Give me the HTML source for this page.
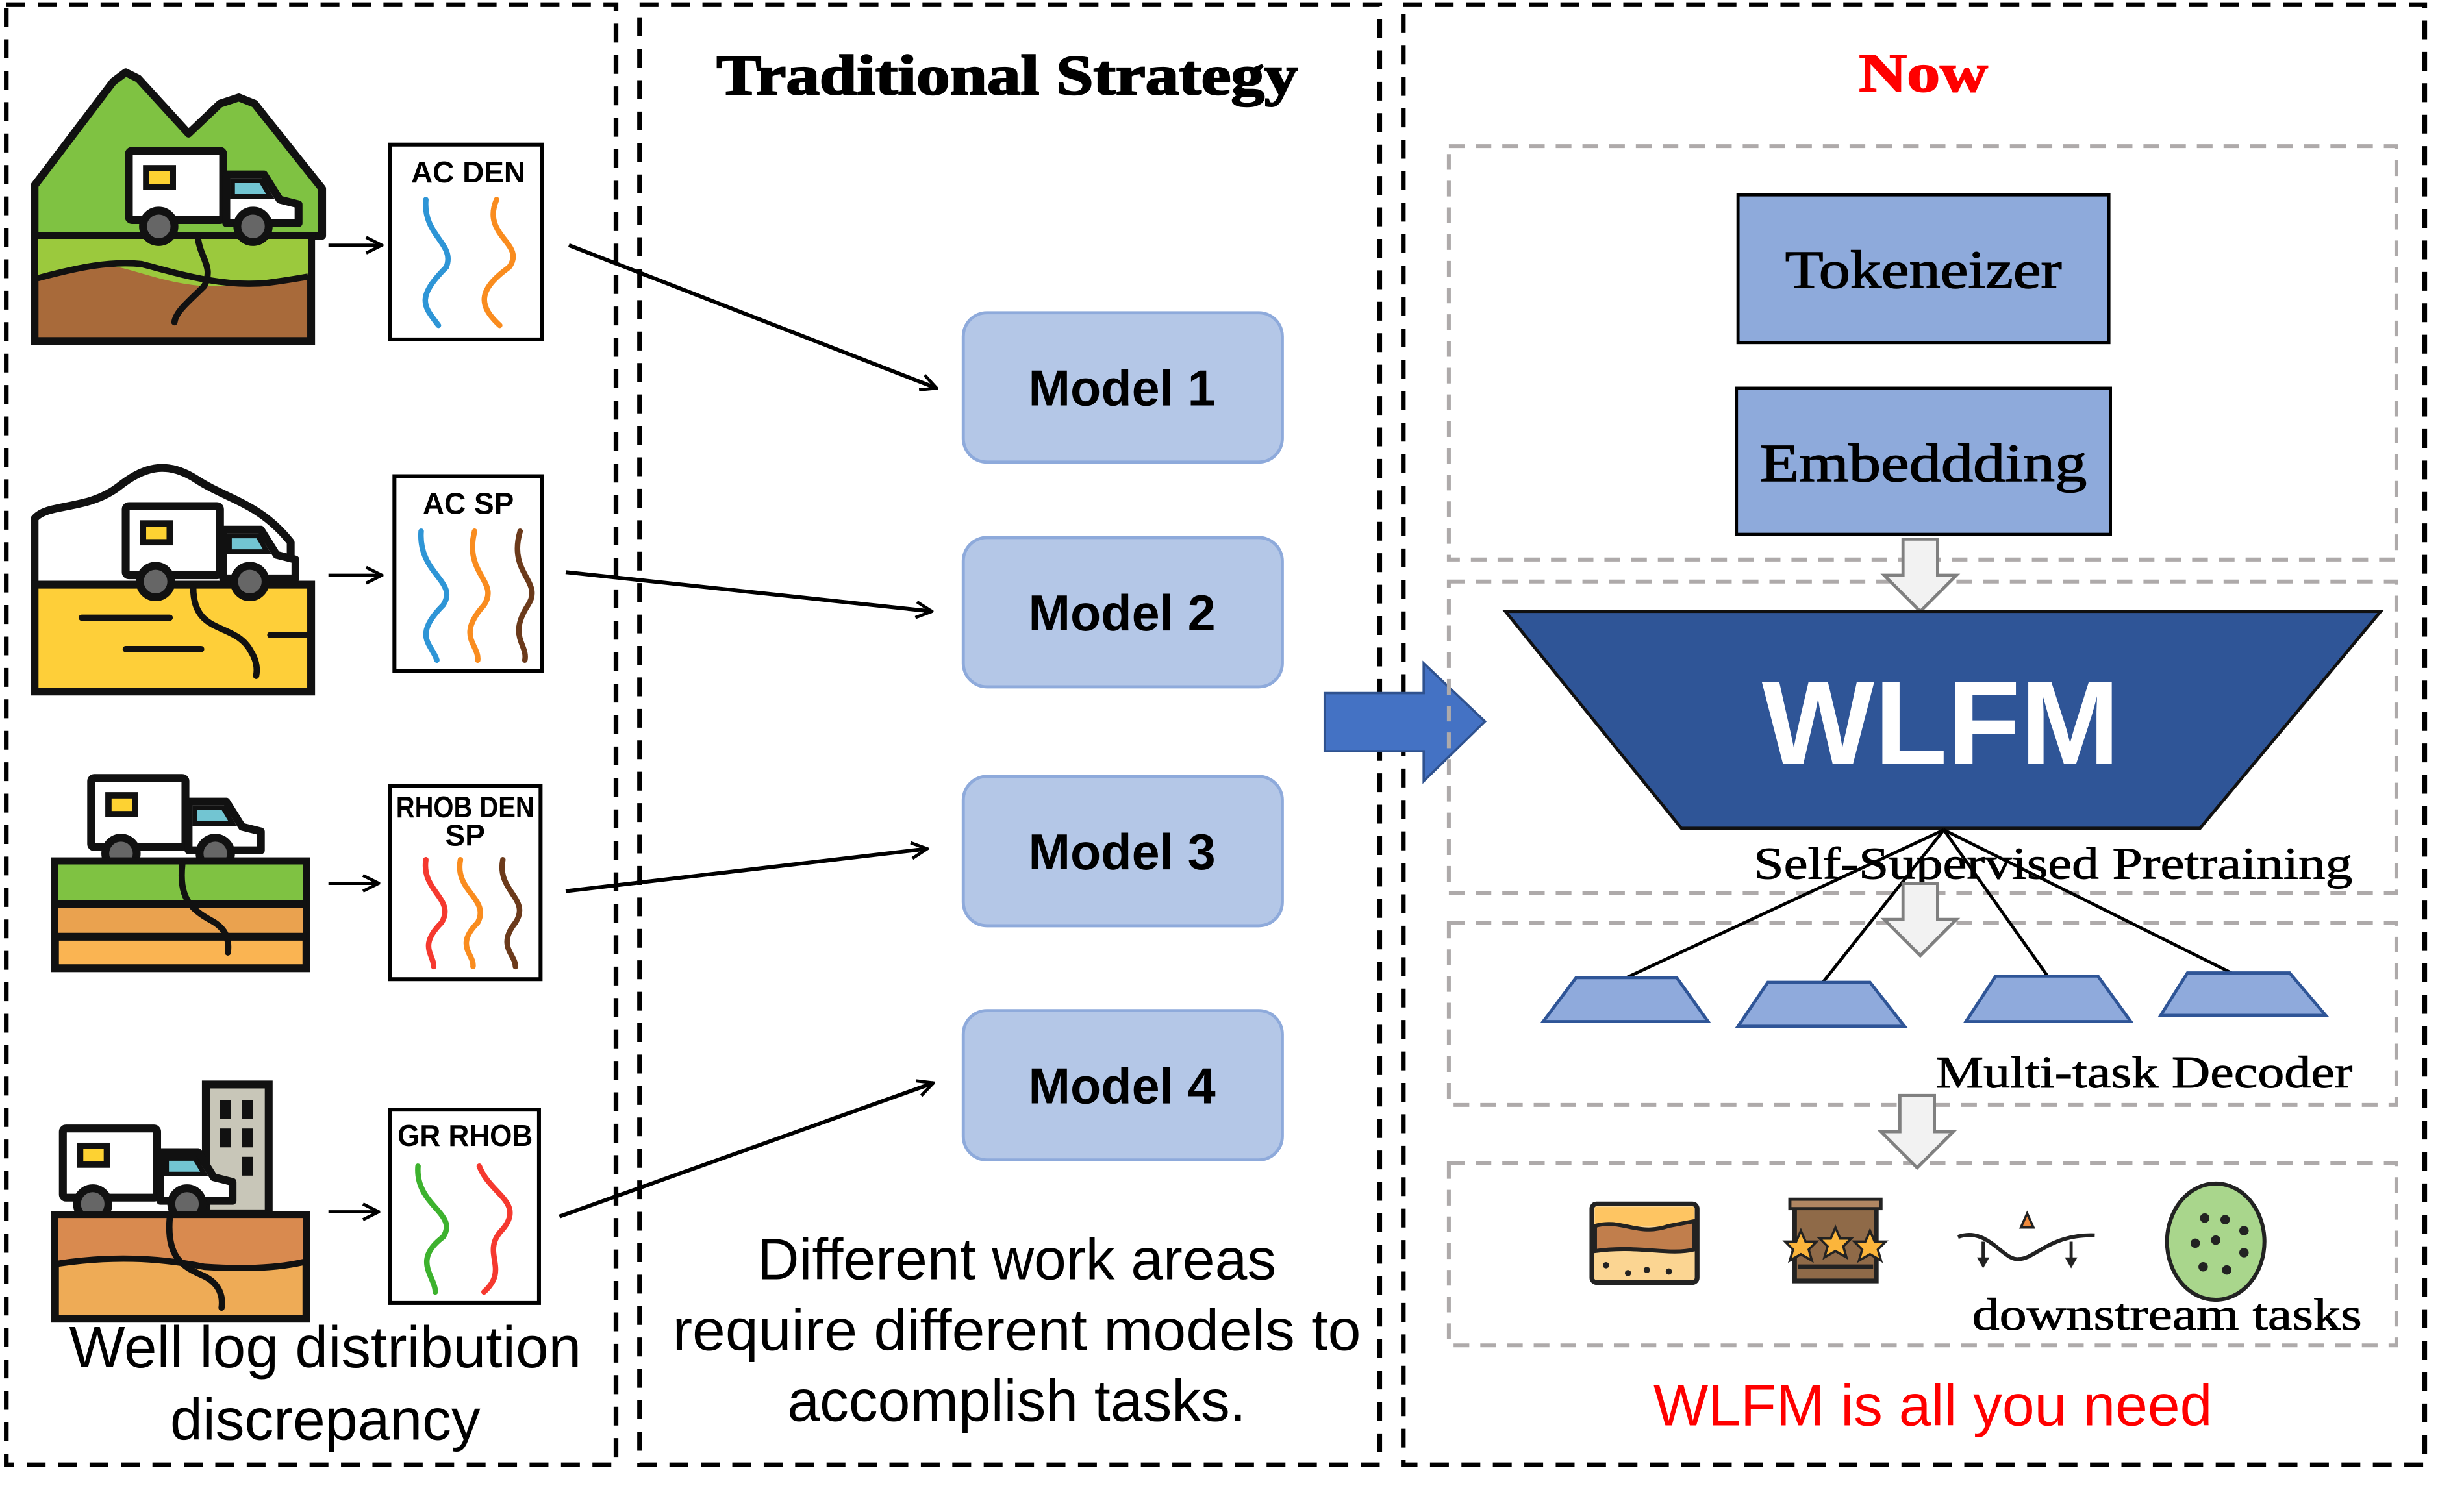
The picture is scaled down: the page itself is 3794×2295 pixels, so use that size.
<!DOCTYPE html>
<html><head><meta charset="utf-8"><style>
html,body{margin:0;padding:0;background:#fff;width:3794px;height:2295px;overflow:hidden}
svg{display:block}
.sf{font-family:"Liberation Serif",serif}
.ss{font-family:"Liberation Sans",sans-serif}
</style></head><body>
<svg width="3794" height="2295" viewBox="0 0 1568 948" preserveAspectRatio="none" xmlns="http://www.w3.org/2000/svg">
<defs>
<marker id="oa" viewBox="0 0 12 12" refX="11" refY="6" markerWidth="12" markerHeight="12" markerUnits="userSpaceOnUse" orient="auto"><path d="M1,1 L11,6 L1,11" fill="none" stroke="#000" stroke-width="2"/></marker>
<g id="truck">
<rect x="0" y="0" width="60" height="44" fill="#fff" stroke="#111" stroke-width="5" rx="2"/>
<rect x="11" y="11" width="17" height="12" fill="#fdd232" stroke="#111" stroke-width="4"/>
<path d="M62,15 L86,15 L96,31 L108,34 L108,46 L62,46 Z" fill="#fff" stroke="#111" stroke-width="5" stroke-linejoin="round"/>
<path d="M66,19 L84,19 L90,29 L66,29 Z" fill="#72c5d2" stroke="#111" stroke-width="3"/>
<circle cx="19" cy="48" r="10" fill="#666" stroke="#111" stroke-width="5"/>
<circle cx="79" cy="48" r="10" fill="#666" stroke="#111" stroke-width="5"/>
</g>
</defs>
<g fill="none" stroke="#000" stroke-width="3" stroke-dasharray="12,8">
<rect x="4" y="3" width="388" height="929"/>
<rect x="407" y="3" width="471" height="929"/>
<rect x="893" y="3" width="650" height="929"/>
</g>
<!-- scene 1 -->
<path d="M22,128 L22,118 L72,52 L80,46 L88,50 L120,85 L140,66 L152,62 L162,66 L205,120 L205,150 L22,150 Z" fill="#7fc242" stroke="#111" stroke-width="5" stroke-linejoin="round"/>
<rect x="22" y="150" width="176" height="67" fill="#a86a3a" stroke="#111" stroke-width="5"/>
<path d="M24,152 L196,152 L196,176 C170,177 150,183 130,182 C100,180 80,168 60,168 C45,168 30,175 24,176 Z" fill="#9bc93d"/>
<path d="M24,177 C50,170 70,166 90,168 C110,173 140,183 170,180 C185,178 190,177 196,176" fill="none" stroke="#111" stroke-width="4"/>
<path d="M126,152 C128,165 136,170 130,182 C120,192 112,198 111,205" fill="none" stroke="#111" stroke-width="4" stroke-linecap="round"/>
<use href="#truck" x="82" y="96"/>
<!-- scene 2 -->
<path d="M22,330 C30,320 55,325 75,310 C90,298 105,292 125,305 C145,318 165,320 185,345 L185,372 L22,372 Z" fill="#fff" stroke="#111" stroke-width="5" stroke-linejoin="round"/>
<rect x="22" y="372" width="176" height="68" fill="#fecf39" stroke="#111" stroke-width="5"/>
<use href="#truck" x="80" y="322"/>
<g stroke="#111" stroke-width="4" stroke-linecap="round" fill="none">
<line x1="52" y1="393" x2="108" y2="393"/><line x1="80" y1="413" x2="128" y2="413"/><line x1="172" y1="404" x2="198" y2="404"/>
<path d="M123,374 C123,405 150,395 160,415 C163,420 164,425 163,430"/>
</g>
<!-- scene 3 -->
<use href="#truck" x="58" y="495"/>
<rect x="35" y="548" width="160" height="68" fill="#fab452" stroke="#111" stroke-width="5"/>
<rect x="37" y="550" width="156" height="24" fill="#7fc242"/>
<rect x="37" y="577" width="156" height="18" fill="#eaa24f"/>
<line x1="35" y1="575" x2="195" y2="575" stroke="#111" stroke-width="5"/>
<line x1="35" y1="596" x2="195" y2="596" stroke="#111" stroke-width="5"/>
<path d="M116,550 C114,570 120,578 135,586 C144,591 146,598 145,606" fill="none" stroke="#111" stroke-width="4" stroke-linecap="round"/>
<!-- scene 4 -->
<rect x="131" y="690" width="40" height="82" fill="#c8c6b8" stroke="#111" stroke-width="5"/>
<g fill="#111"><rect x="140" y="700" width="7" height="12"/><rect x="154" y="700" width="7" height="12"/><rect x="140" y="718" width="7" height="12"/><rect x="154" y="718" width="7" height="12"/><rect x="154" y="736" width="7" height="12"/></g>
<use href="#truck" x="40" y="718"/>
<rect x="35" y="773" width="160" height="66" fill="#eeab56" stroke="#111" stroke-width="5"/>
<path d="M37,775 L193,775 L193,803 C170,806 150,808 120,805 C90,800 60,800 37,804 Z" fill="#d98a4f"/>
<path d="M37,804 C70,799 100,800 130,806 C160,808 180,806 193,803" fill="none" stroke="#111" stroke-width="4"/>
<path d="M108,775 C106,800 116,806 130,812 C140,817 142,825 141,832" fill="none" stroke="#111" stroke-width="4" stroke-linecap="round"/>
<g stroke="#000" stroke-width="2" marker-end="url(#oa)">
<line x1="209" y1="156" x2="243" y2="156"/>
<line x1="209" y1="366" x2="243" y2="366"/>
<line x1="209" y1="562" x2="241" y2="562"/>
<line x1="209" y1="771" x2="241" y2="771"/>
</g>
<g fill="#fff" stroke="#000" stroke-width="2.5">
<rect x="248" y="92" width="97" height="124"/>
<rect x="251" y="303" width="94" height="124"/>
<rect x="248" y="500" width="96" height="123"/>
<rect x="248" y="706" width="95" height="123"/>
</g>
<g class="ss" font-weight="bold" font-size="19" text-anchor="middle" fill="#000">
<text x="298" y="116">AC DEN</text>
<text x="298" y="327">AC  SP</text>
<text x="296" y="520" textLength="88" lengthAdjust="spacingAndGlyphs">RHOB DEN</text>
<text x="296" y="538">SP</text>
<text x="296" y="729" textLength="86" lengthAdjust="spacingAndGlyphs">GR RHOB</text>
</g>
<g fill="none" stroke-width="3.5" stroke-linecap="round">
<path d="M271,127 C269,150 290,155 284,170 C264,190 270,195 279,207" stroke="#2e95d6"/>
<path d="M316,127 C306,150 335,155 324,170 C303,185 305,195 318,207" stroke="#f98c1f"/>
<path d="M268,338 C266,365 292,370 282,385 C262,405 275,410 278,420" stroke="#2e95d6"/>
<path d="M302,338 C295,365 318,370 308,385 C290,405 305,410 304,420" stroke="#f98c1f"/>
<path d="M331,338 C323,365 346,370 336,385 C323,405 336,410 334,420" stroke="#6b3a1b"/>
<path d="M271,547 C268,567 290,572 281,587 C266,602 276,607 276,615" stroke="#f5392f"/>
<path d="M293,547 C289,567 312,572 304,587 C289,602 302,607 301,615" stroke="#f98c1f"/>
<path d="M320,547 C316,567 338,572 328,587 C316,602 328,607 328,615" stroke="#6b3a1b"/>
<path d="M266,742 C264,767 292,772 282,787 C262,802 277,812 277,822" stroke="#3db22e"/>
<path d="M305,742 C312,760 334,765 320,782 C305,797 325,807 308,822" stroke="#f5392f"/>
</g>
<text class="ss" x="207" y="870" font-size="37" text-anchor="middle" textLength="326" lengthAdjust="spacingAndGlyphs">Well log distribution</text>
<text class="ss" x="207" y="916" font-size="37" text-anchor="middle">discrepancy</text>
<!-- middle -->
<text class="sf" x="456" y="60" font-size="36" font-weight="bold" stroke="#000" stroke-width="1" textLength="370" lengthAdjust="spacingAndGlyphs">Traditional Strategy</text>
<g fill="#b4c7e7" stroke="#8eaadb" stroke-width="2">
<rect x="613" y="199" width="203" height="95" rx="15"/>
<rect x="613" y="342" width="203" height="95" rx="15"/>
<rect x="613" y="494" width="203" height="95" rx="15"/>
<rect x="613" y="643" width="203" height="95" rx="15"/>
</g>
<g class="ss" font-weight="bold" font-size="32" text-anchor="middle">
<text x="714" y="258">Model 1</text>
<text x="714" y="401">Model 2</text>
<text x="714" y="553">Model 3</text>
<text x="714" y="702">Model 4</text>
</g>
<g stroke="#000" stroke-width="2.5" marker-end="url(#oa)">
<line x1="362" y1="156" x2="596" y2="247"/>
<line x1="360" y1="364" x2="593" y2="389"/>
<line x1="360" y1="567" x2="590" y2="540"/>
<line x1="356" y1="774" x2="594" y2="689"/>
</g>
<g class="ss" font-size="37" text-anchor="middle">
<text x="647" y="814">Different work areas</text>
<text x="647" y="859" textLength="438" lengthAdjust="spacingAndGlyphs">require different models to</text>
<text x="647" y="904">accomplish tasks.</text>
</g>
<path d="M843,441 L906,441 L906,422 L945,459 L906,497 L906,478 L843,478 Z" fill="#4472c4" stroke="#2f528f" stroke-width="1.5"/>
<!-- right panel -->
<text class="sf" x="1183" y="58" font-size="35" font-weight="bold" fill="#f00" stroke="#f00" stroke-width="0.8" textLength="82" lengthAdjust="spacingAndGlyphs">Now</text>
<g fill="none" stroke="#aeaaaa" stroke-width="2.5" stroke-dasharray="10,7">
<rect x="922" y="93" width="603" height="263"/>
<rect x="922" y="370" width="603" height="198"/>
<rect x="922" y="587" width="603" height="116"/>
<rect x="922" y="740" width="603" height="116"/>
</g>
<rect x="1106" y="124" width="236" height="94" fill="#8eaadb" stroke="#000" stroke-width="2"/>
<rect x="1105" y="247" width="238" height="93" fill="#8eaadb" stroke="#000" stroke-width="2"/>
<g class="sf" font-size="34" stroke="#000" stroke-width="0.6">
<text x="1136" y="183" textLength="176" lengthAdjust="spacingAndGlyphs">Tokeneizer</text>
<text x="1120" y="306" textLength="208" lengthAdjust="spacingAndGlyphs">Embeddding</text>
</g>
<path d="M1211,343 L1233,343 L1233,366 L1245,366 L1222,389 L1199,366 L1211,366 Z" fill="#f2f2f2" stroke="#808080" stroke-width="2"/>
<path d="M958,389 L1515,389 L1400,527 L1070,527 Z" fill="#2f5597" stroke="#111" stroke-width="2"/>
<text class="ss" x="1235" y="486" font-size="76" font-weight="bold" fill="#fff" text-anchor="middle">WLFM</text>
<g stroke="#000" stroke-width="2">
<line x1="1237" y1="528" x2="1035" y2="622"/>
<line x1="1237" y1="528" x2="1160" y2="625"/>
<line x1="1237" y1="528" x2="1303" y2="621"/>
<line x1="1237" y1="528" x2="1420" y2="619"/>
</g>
<text class="sf" x="1116" y="559" font-size="29" stroke="#000" stroke-width="0.4" textLength="381" lengthAdjust="spacingAndGlyphs">Self-Supervised Pretraining</text>
<path d="M1211,562 L1233,562 L1233,585 L1245,585 L1222,608 L1199,585 L1211,585 Z" fill="#f2f2f2" stroke="#808080" stroke-width="2"/>
<g fill="#8faadc" stroke="#2f5597" stroke-width="2">
<path d="M1003,622 L1067,622 L1087,650 L982,650 Z"/>
<path d="M1125,625 L1190,625 L1212,653 L1106,653 Z"/>
<path d="M1270,621 L1335,621 L1356,650 L1251,650 Z"/>
<path d="M1392,619 L1457,619 L1480,646 L1375,646 Z"/>
</g>
<text class="sf" x="1232" y="692" font-size="29" stroke="#000" stroke-width="0.4" textLength="265" lengthAdjust="spacingAndGlyphs">Multi-task Decoder</text>
<path d="M1209,697 L1231,697 L1231,720 L1243,720 L1220,743 L1197,720 L1209,720 Z" fill="#f2f2f2" stroke="#808080" stroke-width="2"/>
<rect x="1013" y="766" width="67" height="50" rx="3" fill="#fbd592" stroke="#222" stroke-width="3"/>
<path d="M1015,768 L1078,768 L1078,780 L1015,780 Z" fill="#fec562"/>
<path d="M1015,780 C1032,775 1042,787 1062,780 L1078,777 L1078,795 C1062,799 1042,792 1015,796 Z" fill="#c17e4c" stroke="#222" stroke-width="2.5"/>
<g fill="#222"><circle cx="1022" cy="805" r="2"/><circle cx="1036" cy="810" r="2"/><circle cx="1048" cy="808" r="2"/><circle cx="1062" cy="809" r="2"/></g>
<rect x="1142" y="766" width="52" height="49" fill="#8f6a48" stroke="#222" stroke-width="3"/>
<rect x="1139" y="763" width="58" height="6" fill="#b08662" stroke="#222" stroke-width="2"/>
<line x1="1144" y1="806" x2="1192" y2="806" stroke="#222" stroke-width="3"/>
<g fill="#fbb53b" stroke="#222" stroke-width="1.5">
<path d="M1146,783 l3,7 7,0 -5,5 2,7 -7,-4 -7,4 2,-7 -5,-5 7,0 z"/>
<path d="M1168,781 l3,7 7,0 -5,5 2,7 -7,-4 -7,4 2,-7 -5,-5 7,0 z"/>
<path d="M1190,783 l3,7 7,0 -5,5 2,7 -7,-4 -7,4 2,-7 -5,-5 7,0 z"/>
</g>
<path d="M1246,787 C1265,780 1275,803 1285,801 C1295,801 1305,785 1333,786" fill="none" stroke="#222" stroke-width="2.5"/>
<path d="M1286,781 L1290,772 L1294,781 Z" fill="#f08a3c" stroke="#222" stroke-width="1.5"/>
<g stroke="#222" stroke-width="2"><line x1="1262" y1="790" x2="1262" y2="802"/><line x1="1318" y1="790" x2="1318" y2="802"/></g>
<g fill="#222"><path d="M1258,800 L1266,800 L1262,807 Z"/><path d="M1314,800 L1322,800 L1318,807 Z"/></g>
<ellipse cx="1410" cy="790" rx="31" ry="37" fill="#a9d68c" stroke="#222" stroke-width="2.5"/>
<g fill="#222"><circle cx="1403" cy="775" r="3"/><circle cx="1416" cy="776" r="3"/><circle cx="1428" cy="783" r="3"/><circle cx="1397" cy="791" r="3"/><circle cx="1410" cy="789" r="3"/><circle cx="1428" cy="797" r="3"/><circle cx="1402" cy="806" r="3"/><circle cx="1417" cy="808" r="3"/></g>
<text class="sf" x="1255" y="846" font-size="29" stroke="#000" stroke-width="0.4" textLength="248" lengthAdjust="spacingAndGlyphs">downstream tasks</text>
<text class="ss" x="1230" y="907" font-size="37" fill="#f00" text-anchor="middle">WLFM is all you need</text>
</svg>
</body></html>
